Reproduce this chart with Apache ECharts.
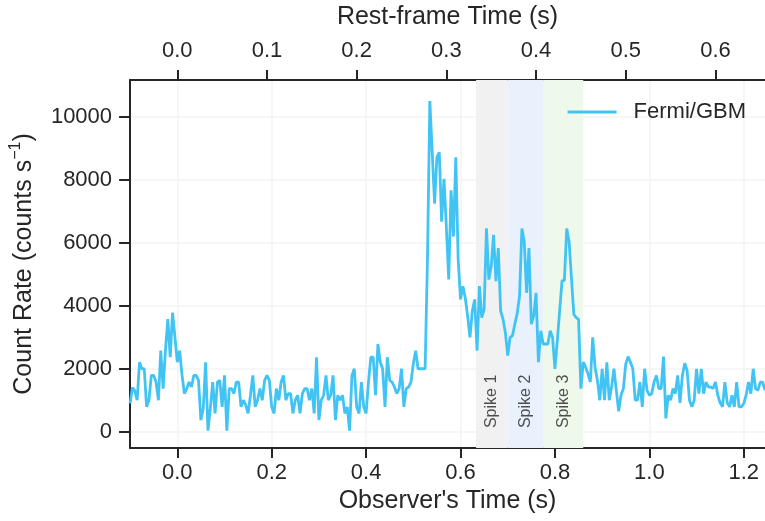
<!DOCTYPE html>
<html>
<head>
<meta charset="utf-8">
<script src="https://cdn.jsdelivr.net/npm/echarts@6/dist/echarts.min.js"></script>
<style>
html,body{margin:0;padding:0;background:#fff;}
#chart{width:765px;height:521px;}
</style>
</head>
<body>
<div id="chart"></div>
<script>
// ---- data ----
const binStart = -0.1;      // observer-frame time of first bin (s)
const binWidth = 0.005;     // bin width (s)
const redshiftFactor = 1.9; // 1+z : rest-frame time = observer time / (1+z)
const counts = [
  893,1400,1300,998,2205,1997,1997,787,998,1786,
  1786,1575,998,2573,1366,2600,3572,2363,3782,3000,
  2205,2573,1800,1210,1366,1575,1418,1786,1786,1628,
  368,736,2205,30,736,1575,579,1575,1628,787,
  1786,30,1366,1366,1210,1575,1575,787,998,840,
  579,1156,1786,787,998,1366,998,1628,1786,1628,
  787,579,1366,998,1575,1786,998,1210,1210,579,
  998,1156,579,1210,1366,1366,998,1366,579,2363,
  368,998,1156,1786,998,1156,1786,368,1156,998,
  1156,579,787,30,1786,1997,787,579,1575,787,
  579,1575,2363,2363,1156,2783,2205,1997,787,2363,
  1628,1575,1418,1210,1366,1997,787,1366,1418,1575,
  2154,2573,1997,1997,1997,1997,5500,10500,8900,7245,
  8716,8874,6669,8033,6500,4832,7667,6196,8716,5462,
  4202,4621,4253,3675,2993,3833,4200,2573,4621,3623,
  3885,6458,4830,5252,6248,4778,5828,3833,3570,3150,
  2415,2993,3045,3413,3750,4300,6450,6038,4410,5828,
  3413,3675,4410,2205,3203,2783,2783,2783,3203,2993,
  1995,2888,3833,4800,4800,6450,6038,4883,3728,3623,
  3570,1365,2205,2048,1838,1575,2993,2048,1628,998,
  1997,998,2205,998,1418,1997,1313,643,1156,1366,
  2153,2384,2205,1997,998,998,1575,787,1997,1313,
  1156,1208,1575,1786,1366,1366,2384,422,1156,998,
  1366,1208,1786,917,1786,2174,1943,998,787,998,
  1997,1208,1997,1208,1575,1418,1418,1366,1575,1156,
  917,787,1575,917,787,1156,787,1575,787,787,
  892,1156,1575,1208,1997,1366,1313,1575,1575,1313
];
const spikeNames = ['Spike 1','Spike 2','Spike 3'];
const spikeStart = [0.633, 0.700, 0.775];
const spikeEnd   = [0.700, 0.775, 0.860];
const spikeColors = ['#f1f1f1','#e9f1fc','#eef9ec'];
const spikeLabelY = 960;
const obsTicks  = [0.0,0.2,0.4,0.6,0.8,1.0,1.2];
const restTicks = [0.0,0.1,0.2,0.3,0.4,0.5,0.6];
const countTicks = [0,2000,4000,6000,8000,10000];
const xRange = [-0.1, 1.245];
const yRange = [-520, 11170];
const seriesName = 'Fermi/GBM';

// ---- build ----
const lineData = counts.map((c,i)=>[+(binStart + i*binWidth).toFixed(4), c]);
const markAreaData = spikeStart.map((s,i)=>[
  {xAxis: s, itemStyle:{color: spikeColors[i]}},
  {xAxis: spikeEnd[i]}
]);
const labelData = spikeNames.map((n,i)=>({value:[(spikeStart[i]+spikeEnd[i])/2, spikeLabelY], name:n}));

const ink = '#262626';
const lineColor = '#41c4f3';
const font = 'Liberation Sans, Arial, sans-serif';
const chart = echarts.init(document.getElementById('chart'), null, {renderer:'canvas'});
chart.setOption({
  animation:false,
  backgroundColor:'#fff',
  textStyle:{fontFamily:font},
  grid:{left:129,right:0,top:79,bottom:73,containLabel:false},
  legend:{
    data:[{name:seriesName, icon:'rect'}],
    right:14, top:96,
    itemWidth:49, itemHeight:3,
    itemStyle:{color:lineColor},
    textStyle:{fontSize:22,color:ink,fontFamily:font,padding:[0,0,0,12]}
  },
  xAxis:[{
    type:'value', position:'bottom', min:xRange[0], max:xRange[1],
    name:"Observer's Time (s)", nameLocation:'middle', nameGap:38,
    nameTextStyle:{fontSize:25,color:ink,fontFamily:font},
    axisLine:{show:true,onZero:false,lineStyle:{color:ink,width:2}},
    axisTick:{show:true,length:10,lineStyle:{color:ink,width:2},customValues:obsTicks},
    axisLabel:{fontSize:22,color:ink,margin:14,customValues:obsTicks,formatter:v=>v.toFixed(1)},
    splitLine:{show:true,lineStyle:{color:'#f3f3f3',width:1.5}}
  },{
    type:'value', position:'top', min:xRange[0]/redshiftFactor, max:xRange[1]/redshiftFactor,
    name:'Rest-frame Time (s)', nameLocation:'middle', nameGap:50,
    nameTextStyle:{fontSize:25,color:ink,fontFamily:font},
    axisLine:{show:true,onZero:false,lineStyle:{color:ink,width:2}},
    axisTick:{show:true,length:10,lineStyle:{color:ink,width:2},customValues:restTicks},
    axisLabel:{fontSize:22,color:ink,margin:18,customValues:restTicks,formatter:v=>v.toFixed(1)},
    splitLine:{show:false}
  }],
  yAxis:{
    type:'value', min:yRange[0], max:yRange[1],
    name:'Count Rate (counts s{sup|−1})', nameLocation:'middle', nameGap:69, nameRotate:90,
    nameTextStyle:{fontSize:25,color:ink,fontFamily:font,lineHeight:32,
      rich:{sup:{fontSize:16,color:ink,fontFamily:font,verticalAlign:'top',lineHeight:32,padding:[0,0,11,0]}}},
    axisLine:{show:true,onZero:false,lineStyle:{color:ink,width:2}},
    axisTick:{show:true,length:11,lineStyle:{color:ink,width:2},customValues:countTicks},
    axisLabel:{fontSize:22,color:ink,margin:18,customValues:countTicks,formatter:v=>String(v)},
    splitLine:{show:true,lineStyle:{color:'#f3f3f3',width:1.5}}
  },
  series:[{
    name:seriesName, type:'line', xAxisIndex:0, yAxisIndex:0,
    data:lineData, showSymbol:false, symbol:'none',
    lineStyle:{color:lineColor,width:2.8}, itemStyle:{color:lineColor},
    clip:true, z:3,
    markArea:{silent:true, data:markAreaData}
  },{
    name:'spikeLabels', type:'scatter', xAxisIndex:0, yAxisIndex:0,
    data:labelData, symbolSize:0, z:4,
    label:{show:true, position:'inside', rotate:90, formatter:p=>p.name,
      fontSize:16, color:ink, fontFamily:font}
  }]
});
</script>
</body>
</html>
